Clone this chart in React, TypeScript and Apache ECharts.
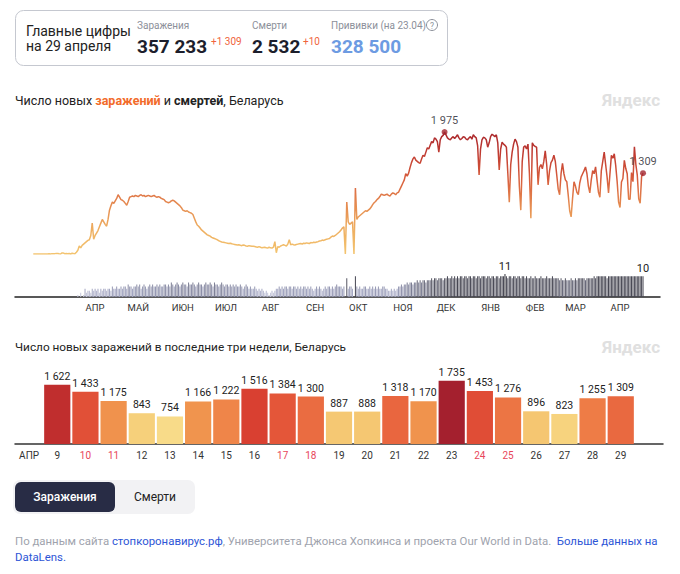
import React, { useEffect, useRef } from "react";
import * as echarts from "echarts";

const FONT = "Roboto, 'Noto Sans', sans-serif";

// Daily new cases, Belarus, starting 2020-03-01
const casesMar20 = [0,0,0,0,0,0,0,0,0,0,0,3,0,6,6,6,9,9,4,0,18,15,5,7,5,8,0,12,8,6,28];
const casesApr20 = [60,130,100,140,160,180,200,220,230,300,500,240,300,340,380,440,500,560,520,480,450,560,710,780,840,820,860,900,960,920];
const casesMay20 = [880,870,850,820,790,850,920,930,940,930,950,940,930,950,960,940,950,930,940,950,940,930,940,950,930,920,930,920,900,890,880];
const casesJun20 = [850,840,830,840,860,870,860,840,820,800,780,750,710,700,690,700,680,670,660,640,580,520,470,450,420,390,370,350,330,310];
const casesJul20 = [300,290,270,260,250,240,230,215,205,195,190,185,180,175,170,175,165,160,155,150,145,150,140,135,145,140,130,125,135,130,125];
const casesAug20 = [125,120,115,110,120,110,100,105,110,100,95,110,100,95,110,200,20,120,110,130,140,150,140,130,160,230,150,160,150,145,155];
const casesSep20 = [160,165,170,160,175,170,180,175,170,185,180,190,185,195,200,210,215,225,220,230,240,245,250,275,290,285,300,320,340,360];
const casesOct20 = [390,420,440,0,840,520,480,500,520,0,1070,560,600,620,640,660,680,700,690,710,730,760,800,830,850,880,900,930,970,960,950];
const casesNov20 = [960,970,950,940,970,990,980,960,990,1000,1050,1100,1150,1200,1300,1260,1310,1400,1480,1540,1570,1520,1500,1480,1470,1540,1600,1580,1650,1720];
const casesDec20 = [1700,1760,1820,1800,1880,1860,1820,1650,1850,1900,1920,1975,1930,1880,1860,1850,1880,1900,1870,1900,1930,1880,1850,1870,1900,1890,1860,1850,1880,1900,1860];
const casesJan21 = [1930,1900,1880,1750,1280,1700,1850,1890,1880,1850,1730,1800,1900,1940,1920,1900,1930,1800,1360,1700,1810,1780,1760,1730,1300,840,1450,1650,1780,1860,1820];
const casesFeb21 = [1730,1100,710,1500,1730,1750,1700,1780,1300,580,1800,1760,1740,1730,1120,1400,1450,1380,1500,1670,1450,1120,1350,1480,1520,1600,1500,1280];
const casesMar21 = [1050,960,1300,1470,1300,1200,1170,950,700,600,900,1170,1100,1000,960,1150,1250,1300,1350,1410,1300,1100,990,1200,1350,1300,1410,1200,1000,920,1350];
const casesApr21Start = [1500,1650,1450,1250,990,1300,1600,1550];

// Last three weeks (April 9–29, 2021)
const recentDays = ["9","10","11","12","13","14","15","16","17","18","19","20","21","22","23","24","25","26","27","28","29"];
const recentCases = [1622,1433,1175,843,754,1166,1222,1516,1384,1300,887,888,1318,1170,1735,1453,1276,896,823,1255,1309];
const weekendDays = ["10","11","17","18","24","25"];

// Daily deaths, starting 2020-04-01
const deathsApr20 = [1,0,2,0,1,4,2,3,3,2,4,3,4,3,4,2,4,3,4,4,3,4,4,3,5,4,4,5,4,4];
const deathsMay20 = [5,4,5,5,4,6,5,5,4,5,5,6,5,6,4,5,6,5,4,5,6,5,6,5,5,6,5,6,5,5,6];
const deathsJun20 = [6,5,6,5,7,6,5,6,7,6,5,6,7,6,6,5,7,6,6,7,6,5,6,7,6,6,5,6,7,6];
const deathsJul20 = [6,7,6,5,7,6,6,5,6,7,6,5,6,6,5,6,5,6,5,6,5,5,6,5,4,5,6,5,4,5,4];
const deathsAug20 = [4,5,4,3,4,3,4,3,2,3,2,1,2,3,2,3,4,4,5,4,5,4,5,5,4,5,5,4,5,5,4];
const deathsSep20 = [5,4,5,4,5,5,4,5,4,5,4,3,4,5,4,5,4,3,4,5,4,5,5,4,5,4,5,6,5,5];
const deathsOct20 = [5,4,5,0,9,4,5,5,4,0,10,5,4,5,4,4,5,5,4,4,5,4,5,4,5,4,5,4,4,5,5];
const deathsNov20 = [4,4,3,3,4,3,4,3,4,5,5,6,5,6,6,7,6,7,7,6,7,7,8,7,8,7,8,8,7,8];
const deathsDec20 = [8,8,9,8,9,9,8,9,9,9,8,9,9,10,9,9,10,9,10,9,10,9,10,10,9,10,10,9,10,10,9];
const deathsJan21 = [10,10,9,10,10,9,10,10,10,9,10,10,9,10,10,9,10,10,9,10,10,10,11,10,9,10,10,9,10,10,9];
const deathsFeb21 = [10,10,9,10,10,9,10,9,9,10,9,9,10,9,9,9,10,9,9,9,10,9,9,9,10,9,9,9];
const deathsMar21 = [9,8,9,8,8,9,8,8,8,9,8,8,9,8,9,9,9,9,9,8,9,9,9,9,9,10,9,10,10,10,10];
const deathsApr21 = [10,10,10,9,10,10,10,10,10,10,10,10,10,10,10,10,10,10,10,10,10,10,10,10,10,10,10,10,10];

const monthNames = ["АПР","МАЙ","ИЮН","ИЮЛ","АВГ","СЕН","ОКТ","НОЯ","ДЕК","ЯНВ","ФЕВ","МАР","АПР"];

const fmt = (v: number) => String(v).replace(/\B(?=(\d{3})+(?!\d))/g, " ");

export default function App() {
  const ref = useRef<HTMLDivElement>(null);
  useEffect(() => {
    if (!ref.current) return;
    const chart = echarts.init(ref.current, undefined, { renderer: "svg" });

    const DAY = 86400000;
    const start = Date.UTC(2020, 2, 1);
    const dayIndex = (y: number, m: number, d: number) => Math.round((Date.UTC(y, m, d) - start) / DAY);

    const cases = [
      ...casesMar20, ...casesApr20, ...casesMay20, ...casesJun20, ...casesJul20, ...casesAug20,
      ...casesSep20, ...casesOct20, ...casesNov20, ...casesDec20, ...casesJan21, ...casesFeb21,
      ...casesMar21, ...casesApr21Start, ...recentCases,
    ];
    const lineData = cases.map((v, i) => [i, v]);
    let peakIdx = 0;
    cases.forEach((v, i) => { if (v > cases[peakIdx]) peakIdx = i; });
    const lastIdx = cases.length - 1;

    const deaths = [
      ...deathsApr20, ...deathsMay20, ...deathsJun20, ...deathsJul20, ...deathsAug20, ...deathsSep20,
      ...deathsOct20, ...deathsNov20, ...deathsDec20, ...deathsJan21, ...deathsFeb21, ...deathsMar21, ...deathsApr21,
    ];
    const deathStart = dayIndex(2020, 3, 1);
    let dMax = 0;
    deaths.forEach((v, i) => { if (v > deaths[dMax]) dMax = i; });
    const deathData = deaths.map((v, i) => {
      const labelled = i === dMax || i === deaths.length - 1;
      return labelled
        ? { value: [deathStart + i, v], label: { show: true, position: "top", distance: 2, fontSize: 11, color: "#222", fontFamily: FONT } }
        : { value: [deathStart + i, v] };
    });

    const monthDays: number[] = [];
    for (let k = 0; k < 13; k++) monthDays.push(dayIndex(2020, 3 + k, 13));

    const cats = ["АПР", ...recentDays, ""];
    const barData: any[] = ["-", ...recentCases, "-"];

    const xMin = -12.7;
    const xMax = 435.8;

    const txt = (text: string, x: number, y: number, style: any = {}) => ({
      type: "text", x, y, silent: true,
      style: { text, fontFamily: FONT, fontSize: 11, fill: "#222", verticalAlign: "middle", align: "left", ...style },
    });

    const option: any = {
      animation: false,
      textStyle: { fontFamily: FONT },
      grid: [
        { left: 15, width: 645, top: 130.5, height: 123.5 },
        { left: 15, width: 645, top: 271, height: 26 },
        { left: 15, width: 648, top: 371, height: 73 },
      ],
      xAxis: [
        { gridIndex: 0, type: "value", min: xMin, max: xMax, show: false },
        {
          gridIndex: 1, type: "value", min: xMin, max: xMax,
          axisLine: { show: true, lineStyle: { color: "#222", width: 1.5 } },
          axisTick: { show: false }, splitLine: { show: false },
          axisLabel: {
            customValues: monthDays,
            formatter: (v: number) => { const k = monthDays.indexOf(Math.round(v)); return k >= 0 ? monthNames[k] : ""; },
            fontSize: 9.5, color: "#333", margin: 5, fontFamily: FONT,
          },
        },
        {
          gridIndex: 2, type: "category", data: cats,
          axisLine: { show: true, lineStyle: { color: "#333", width: 1.5 } },
          axisTick: { show: false },
          axisLabel: {
            interval: 0, fontSize: 10, color: "#333", margin: 6, fontFamily: FONT,
            formatter: (v: string) => (weekendDays.indexOf(v) >= 0 ? `{w|${v}}` : v),
            rich: { w: { color: "#e8465a", fontSize: 10, fontFamily: FONT } },
          },
        },
      ],
      yAxis: [
        { gridIndex: 0, type: "value", min: 0, max: 2000, show: false },
        { gridIndex: 1, type: "value", min: 0, max: 12.5, show: false },
        { gridIndex: 2, type: "value", min: 0, max: 2000, show: false },
      ],
      visualMap: [
        { show: false, type: "continuous", seriesIndex: 0, dimension: 1, min: 0, max: 2000,
          inRange: { color: ["#f3c46f", "#eeae60", "#e58a50", "#d85f3d", "#c23d32", "#a8272d"] } },
        { show: false, type: "continuous", seriesIndex: 1, dimension: 1, min: 2, max: 11,
          inRange: { color: ["#c4c6da", "#9fa2bf", "#85879f", "#5a5a68", "#35353e"] } },
        { show: false, type: "continuous", seriesIndex: 2, min: 750, max: 1750,
          inRange: { color: ["#f8dc8a", "#f6cf7a", "#f4bb66", "#f2a85a", "#f0984f", "#ee7e47", "#e65a3b", "#e04e36", "#d5392f", "#b82a2e", "#a01e2e"] } },
      ],
      series: [
        { type: "line", xAxisIndex: 0, yAxisIndex: 0, data: lineData, showSymbol: false, lineStyle: { width: 1.5 }, z: 3 },
        { type: "bar", xAxisIndex: 1, yAxisIndex: 1, data: deathData, barWidth: 1 },
        {
          type: "bar", xAxisIndex: 2, yAxisIndex: 2, data: barData, barCategoryGap: "7%",
          label: { show: true, position: "top", distance: 3, fontSize: 10.5, color: "#222", fontFamily: FONT,
            formatter: (p: any) => fmt(p.value) },
        },
        {
          type: "scatter", xAxisIndex: 0, yAxisIndex: 0, symbolSize: 6, z: 5,
          itemStyle: { color: "#a3262e" },
          data: [[peakIdx, cases[peakIdx]], [lastIdx, cases[lastIdx]]],
          label: { show: true, position: "top", distance: 3, fontSize: 11, color: "#1d1d2b", fontFamily: FONT,
            formatter: (p: any) => fmt(p.value[1]) },
        },
      ],
      graphic: [
        { type: "rect", silent: true, shape: { x: 15.5, y: 10.5, width: 432, height: 55, r: 8 }, style: { fill: "#fff", stroke: "#c5c8d0", lineWidth: 1 } },
        txt("Главные цифры", 26, 31, { fontSize: 14, fill: "#222" }),
        txt("на 29 апреля", 26, 46, { fontSize: 14, fill: "#222" }),
        txt("Заражения", 137, 25, { fontSize: 10, fill: "#8c909a" }),
        txt("357 233", 137, 46, { fontSize: 19, fontWeight: "bold", fill: "#1c1e2c" }),
        txt("+1 309", 211, 41, { fontSize: 10, fill: "#f0643c" }),
        txt("Смерти", 252, 25, { fontSize: 10, fill: "#8c909a" }),
        txt("2 532", 252, 46, { fontSize: 19, fontWeight: "bold", fill: "#1c1e2c" }),
        txt("+10", 303, 41, { fontSize: 10, fill: "#f0643c" }),
        txt("Прививки (на 23.04)", 331, 25, { fontSize: 10, fill: "#8c909a" }),
        { type: "circle", silent: true, shape: { cx: 432, cy: 25, r: 5.5 }, style: { fill: "none", stroke: "#8c909a", lineWidth: 1 } },
        txt("?", 432, 25.5, { fontSize: 8.5, fill: "#8c909a", align: "center" }),
        txt("328 500", 331, 46, { fontSize: 19, fontWeight: "bold", fill: "#6d9be2" }),

        {
          type: "text", x: 15, y: 100, silent: true,
          style: {
            text: "Число новых {o|заражений} и {b|смертей}, Беларусь",
            fontFamily: FONT, fontSize: 12.5, fill: "#222", verticalAlign: "middle",
            rich: {
              o: { fontFamily: FONT, fontSize: 12.5, fontWeight: "bold", fill: "#f26b2a", color: "#f26b2a" },
              b: { fontFamily: FONT, fontSize: 12.5, fontWeight: "bold", fill: "#222", color: "#222" },
            },
          },
        },
        txt("Яндекс", 660, 100, { fontSize: 17, fontWeight: "bold", fill: "#e0e0e0", align: "right" }),
        txt("Число новых заражений в последние три недели, Беларусь", 15, 347, { fontSize: 11.8, fill: "#222" }),
        txt("Яндекс", 660, 347, { fontSize: 17, fontWeight: "bold", fill: "#e0e0e0", align: "right" }),

        { type: "rect", silent: true, shape: { x: 13, y: 480, width: 182, height: 34, r: 7 }, style: { fill: "#f2f2f4" } },
        { type: "rect", silent: true, shape: { x: 15, y: 482, width: 100, height: 30, r: 6 }, style: { fill: "#282c45" } },
        txt("Заражения", 65, 497, { fontSize: 12, fill: "#fff", align: "center", fontWeight: 500 }),
        txt("Смерти", 155, 497, { fontSize: 12, fill: "#222", align: "center" }),

        {
          type: "text", x: 15, y: 541, silent: true,
          style: {
            text: "{g|По данным сайта }{l|стопкоронавирус.рф}{g|, Университета Джонса Хопкинса и проекта Our World in Data.  }{l|Больше данных на}",
            fontFamily: FONT, fontSize: 11.4, verticalAlign: "middle",
            rich: {
              g: { fontFamily: FONT, fontSize: 11.4, fill: "#a0a3ad", color: "#a0a3ad" },
              l: { fontFamily: FONT, fontSize: 11.4, fill: "#2d55d6", color: "#2d55d6" },
            },
          },
        },
        txt("DataLens.", 15, 557, { fontSize: 11.4, fill: "#2d55d6" }),
      ],
    };

    chart.setOption(option);
    return () => chart.dispose();
  }, []);

  return <div ref={ref} style={{ position: "absolute", left: 0, top: 0, width: 680, height: 574 }} />;
}
